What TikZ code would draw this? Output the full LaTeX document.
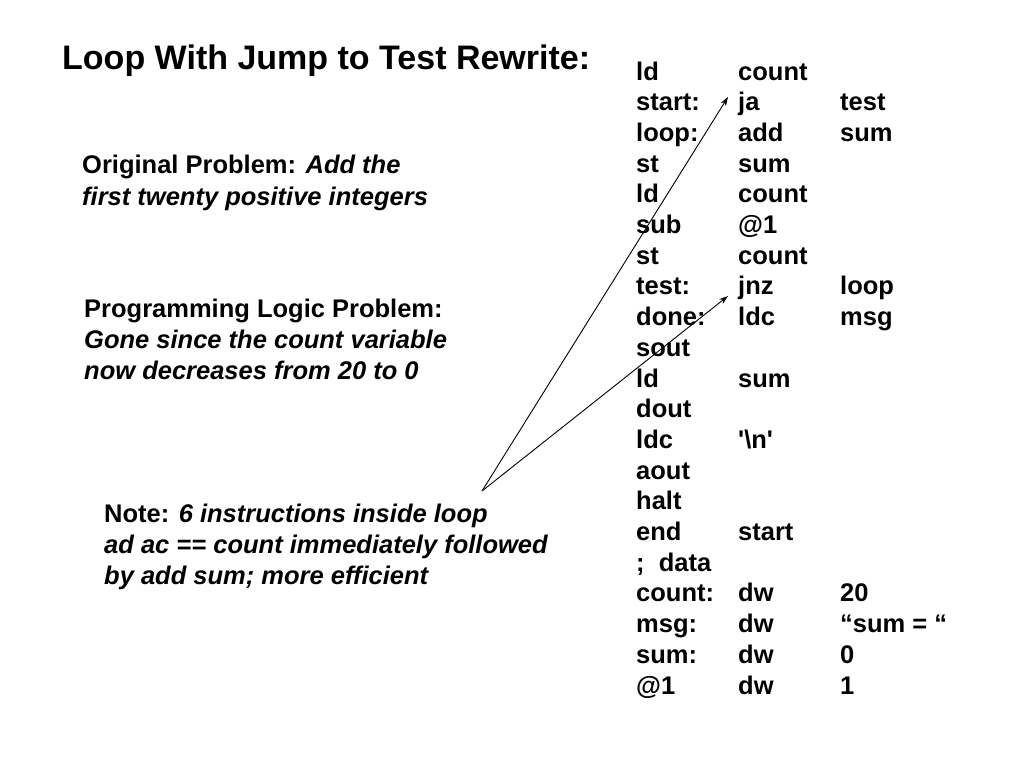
\documentclass[tikz,border=0pt]{standalone}
\usepackage{fontspec}
\setmainfont{Liberation Sans}
\newfontfamily\plainq[Ligatures=TeXOff]{Liberation Sans}
\usetikzlibrary{arrows.meta}
\newcommand\codefnt{\fontsize{25.5}{30}\selectfont\bfseries}
\newcommand\notefnt{\fontsize{25.5}{30}\selectfont\bfseries}
\newcommand\titlefnt{\fontsize{34}{38}\selectfont\bfseries}
\tikzset{
  txt/.style={anchor=base west, inner sep=0pt, font=\codefnt},
  note/.style={anchor=base west, inner sep=0pt, font=\notefnt},
  ttl/.style={anchor=base west, inner sep=0pt, font=\titlefnt},
  ptr/.style={draw=black, line width=0.9pt, -{Stealth[length=9pt,width=6pt]}}
}
\begin{document}
\begin{tikzpicture}[x=1pt,y=-1pt]
\useasboundingbox[fill=white] (0,0) rectangle (1024,768);
\node[ttl] (title) at (62,70) {Loop With Jump to Test Rewrite:};
% left notes
\node[note] (o1) at (82,173) {Original Problem: \itshape Add the};
\node[note] (o2) at (82,205) {\itshape first twenty positive integers};
\node[note] (p1) at (84,317) {Programming Logic Problem:};
\node[note] (p2) at (84,348) {\itshape Gone since the count variable};
\node[note] (p3) at (84,379) {\itshape now decreases from 20 to 0};
\node[note] (n1) at (104,522) {Note: \itshape 6 instructions inside loop};
\node[note] (n2) at (104,553) {\itshape ad ac == count immediately followed};
\node[note] (n3) at (104,584) {\itshape by add sum; more efficient};
% code listing
\node[txt] (r0a) at (636,80.0) {ld};      \node[txt] (r0b) at (738,80.0) {count};
\node[txt] (r1a) at (636,110.7) {start:}; \node[txt] (r1b) at (738,110.7) {ja}; \node[txt] (r1c) at (840,110.7) {test};
\node[txt] (r2a) at (636,141.4) {loop:};  \node[txt] (r2b) at (738,141.4) {add}; \node[txt] (r2c) at (840,141.4) {sum};
\node[txt] (r3a) at (636,172.1) {st};     \node[txt] (r3b) at (738,172.1) {sum};
\node[txt] (r4a) at (636,202.8) {ld};     \node[txt] (r4b) at (738,202.8) {count};
\node[txt] (r5a) at (636,233.5) {sub};    \node[txt] (r5b) at (738,233.5) {@1};
\node[txt] (r6a) at (636,264.2) {st};     \node[txt] (r6b) at (738,264.2) {count};
\node[txt] (r7a) at (636,294.9) {test:};  \node[txt] (r7b) at (738,294.9) {jnz}; \node[txt] (r7c) at (840,294.9) {loop};
\node[txt] (r8a) at (636,325.6) {done:};  \node[txt] (r8b) at (738,325.6) {ldc}; \node[txt] (r8c) at (840,325.6) {msg};
\node[txt] (r9a) at (636,356.3) {sout};
\node[txt] (r10a) at (636,387.0) {ld};    \node[txt] (r10b) at (738,387.0) {sum};
\node[txt] (r11a) at (636,417.7) {dout};
\node[txt] (r12a) at (636,448.4) {ldc};   \node[txt] (r12b) at (738,448.4) {\plainq '\textbackslash n'};
\node[txt] (r13a) at (636,479.1) {aout};
\node[txt] (r14a) at (636,509.8) {halt};
\node[txt] (r15a) at (636,540.5) {end};   \node[txt] (r15b) at (738,540.5) {start};
\node[txt] (r16a) at (636,571.2) {;\ \ data};
\node[txt] (r17a) at (636,601.9) {count:}; \node[txt] (r17b) at (738,601.9) {dw}; \node[txt] (r17c) at (840,601.9) {20};
\node[txt] (r18a) at (636,632.6) {msg:};   \node[txt] (r18b) at (738,632.6) {dw}; \node[txt] (r18c) at (840,632.6) {“sum = “};
\node[txt] (r19a) at (636,663.3) {sum:};   \node[txt] (r19b) at (738,663.3) {dw}; \node[txt] (r19c) at (840,663.3) {0};
\node[txt] (r20a) at (636,694.0) {@1};     \node[txt] (r20b) at (738,694.0) {dw}; \node[txt] (r20c) at (840,694.0) {1};
% arrows
\coordinate (src) at (482,491);
\coordinate (tgtA) at (728,97);
\coordinate (tgtB) at (728,296);
\draw[ptr] (src) -- (tgtA);
\draw[ptr] (src) -- (tgtB);
\end{tikzpicture}
\end{document}
